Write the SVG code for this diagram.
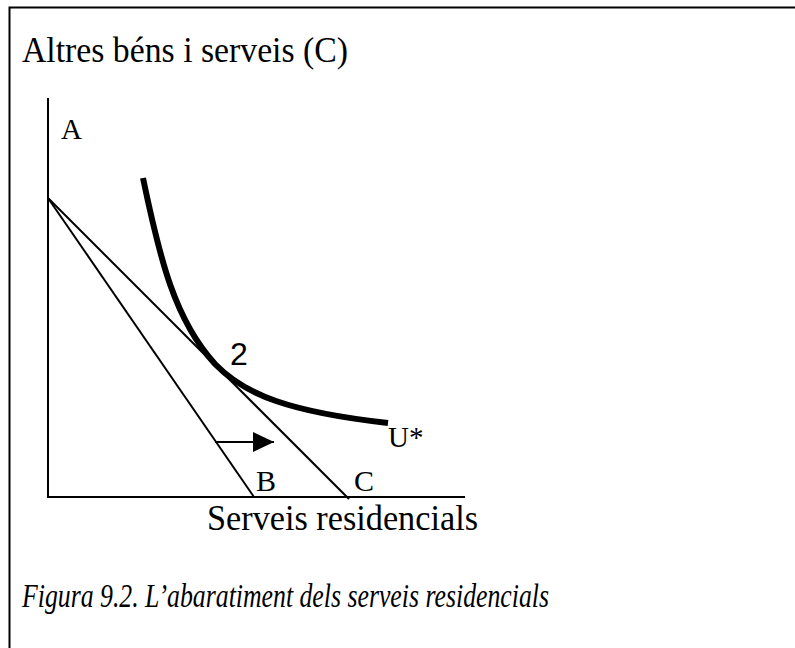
<svg xmlns="http://www.w3.org/2000/svg" width="795" height="648" viewBox="0 0 795 648">
<style>
.t{font-family:"Liberation Serif","Times New Roman",serif;fill:#000}
.s{font-family:"Liberation Sans",Arial,sans-serif;fill:#000}
.ln{stroke:#000;fill:none;stroke-width:2}
</style>
<defs>
<marker id="ah" markerWidth="22" markerHeight="20" refX="21" refY="10" orient="auto" markerUnits="userSpaceOnUse">
<path d="M0,0 L21,10 L0,20 Z" fill="#000"/>
</marker>
</defs>
<rect width="795" height="648" fill="#fff"/>
<g id="frame">
<path class="ln" d="M9.5,648 L9.5,7.5 L795,7.5"/>
</g>
<g id="title"><text class="t" x="22" y="62" font-size="35" textLength="326" lengthAdjust="spacingAndGlyphs">Altres béns i serveis (C)</text></g>
<g id="axes">
<path class="ln" d="M48,98 L48,497 L465,497"/>
</g>
<g id="connectors">
<path class="ln" d="M48,198 L254,497"/>
<path class="ln" d="M48,198 L349,499"/>
<path d="M143,178 C160,260 175,320 215,364 C245,395 290,412 388,423" fill="none" stroke="#000" stroke-width="6"/>
<path class="ln" d="M215,442 L274,442" marker-end="url(#ah)"/>
</g>
<g id="labels">
<text class="t" x="61" y="139" font-size="29">A</text>
<text class="s" x="230" y="365" font-size="32">2</text>
<text class="t" x="388" y="447" font-size="29">U*</text>
<text class="t" x="256" y="491" font-size="30">B</text>
<text class="t" x="354" y="491" font-size="30">C</text>
<text class="t" x="207" y="530" font-size="35" textLength="271" lengthAdjust="spacingAndGlyphs">Serveis residencials</text>
</g>
<g id="caption"><text class="t" x="22" y="607" font-size="34" font-style="italic" textLength="527" lengthAdjust="spacingAndGlyphs">Figura 9.2. L’abaratiment dels serveis residencials</text></g>
</svg>
